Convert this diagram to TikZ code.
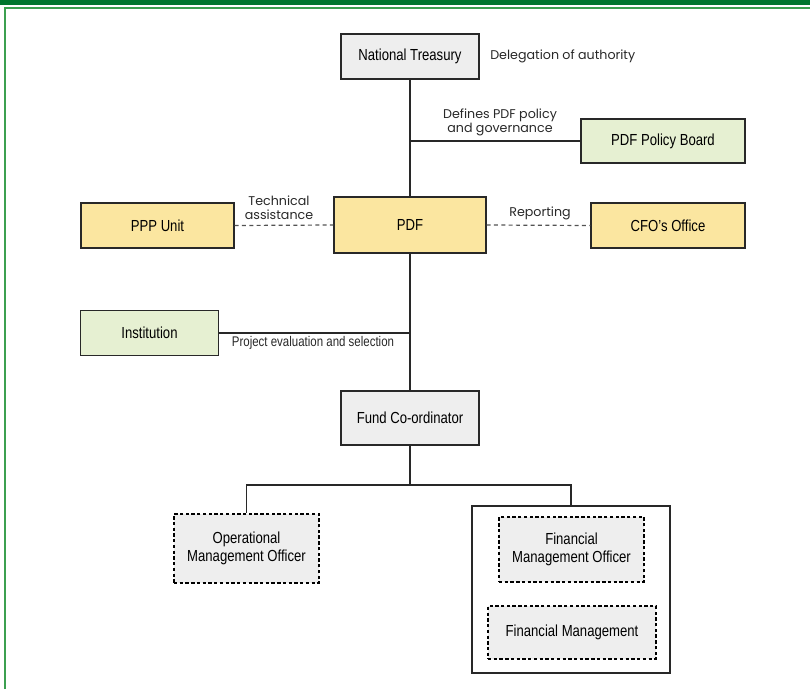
\documentclass[tikz,border=0pt]{standalone}
\usepackage{fontspec}
\setmainfont{Liberation Sans}[FakeStretch=0.82]
\newfontfamily\notefont{Poppins}
\begin{document}
\definecolor{framegreen}{RGB}{0,118,46}
\definecolor{edgegreen}{RGB}{60,160,80}
\definecolor{boxgray}{RGB}{238,238,238}
\definecolor{boxyellow}{RGB}{251,230,160}
\definecolor{boxgreen}{RGB}{230,240,210}
\definecolor{ink}{RGB}{40,40,40}
\begin{tikzpicture}[x=0.75pt,y=-0.75pt,
  size/.style 2 args={minimum width=#1*0.75pt,minimum height=#2*0.75pt},
  box/.style={draw=ink,line width=0.9pt,inner sep=0pt,align=center,
    font=\fontsize{12}{13.5}\selectfont,text=black},
  graybox/.style={box,fill=boxgray},
  yellowbox/.style={box,fill=boxyellow},
  greenbox/.style={box,fill=boxgreen},
  dotbox/.style={box,draw=black,line width=1.5pt,dash pattern=on 2.5pt off 1.8pt,fill=boxgray},
  link/.style={draw=ink,line width=0.9pt},
  dashlink/.style={draw=ink!80,line width=0.9pt,dash pattern=on 3pt off 2.5pt},
  note/.style={font=\notefont\fontsize{9.5}{10.5}\selectfont,text=ink,align=center,inner sep=0pt},
  plainnote/.style={font=\fontsize{10.5}{12}\selectfont,text=ink,inner sep=0pt}]
\useasboundingbox (0,0) rectangle (810,689);
% page frame
\fill[framegreen] (0,0) rectangle (810,5);
\draw[edgegreen,line width=1.5pt] (4.5,689) -- (4.5,8) -- (810,8);

% nodes
\node[graybox,size={138}{45}] (nt) at (410,56.5) {National Treasury};
\node[greenbox,size={164}{44}] (board) at (663,141) {PDF Policy Board};
\node[yellowbox,size={152}{56}] (pdf) at (410,225) {PDF};
\node[yellowbox,size={153}{45}] (ppp) at (157.5,225.5) {PPP Unit};
\node[yellowbox,size={154}{45}] (cfo) at (668,225.5) {CFO’s Office};
\node[greenbox,size={138}{45}] (inst) at (149.5,333) {Institution};
\node[graybox,size={138}{54}] (fund) at (410,418) {Fund Co-ordinator};
\node[dotbox,size={145}{69}] (omo) at (246.5,548.5) {Operational\\Management Officer};
\node[box,fill=white,size={198}{167}] (group) at (571,589.5) {};
\node[dotbox,size={145}{65}] (fmo) at (571.5,549.5) {Financial\\Management Officer};
\node[dotbox,size={168}{53}] (fm) at (572,632.5) {Financial Management};

% junction points
\coordinate (jboard) at (nt.south |- board.west);
\coordinate (jinst) at (pdf.south |- inst.east);
\coordinate (jsplit) at (410,485);

% connectors
\draw[link] (nt.south) -- (pdf.north);
\draw[link] (jboard) -- (board.west);
\draw[dashlink] (ppp.east) -- (pdf.west);
\draw[dashlink] (pdf.east) -- (cfo.west);
\draw[link] (pdf.south) -- (fund.north);
\draw[link] (inst.east) -- (jinst);
\draw[link] (fund.south) -- (jsplit);
\draw[link] (omo.north) |- (jsplit) -| (group.north);

% connector labels
\node[note,anchor=west] (ldeleg) at (490,56) {Delegation of authority};
\node[note] (lpolicy) at (500,122) {Defines PDF policy\\and governance};
\node[note] (ltech) at (279,208) {Technical\\assistance};
\node[note] (lrep) at (540,213) {Reporting};
\node[plainnote] (lproj) at (313,343) {Project evaluation and selection};
\end{tikzpicture}
\end{document}
